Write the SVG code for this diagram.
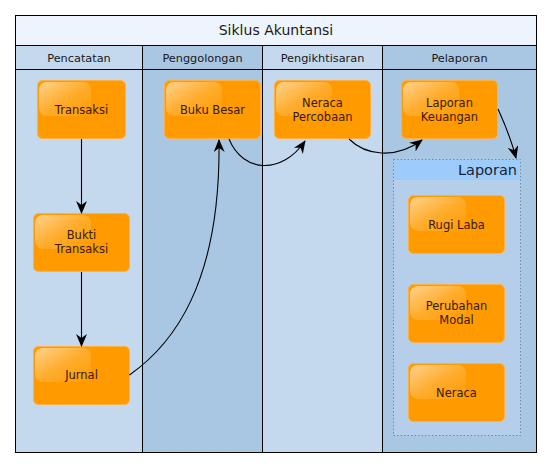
<svg xmlns="http://www.w3.org/2000/svg" width="552" height="468" viewBox="0 0 552 468">
<defs>
<style>
.light{fill:#C4D8EE}
.dark{fill:#A9C7E3}
.line{stroke:#000;stroke-width:1;fill:none}
.hdr{font-family:"DejaVu Sans",sans-serif;font-size:11.3px;fill:#1a1a1a;text-anchor:middle}
.title{font-family:"DejaVu Sans",sans-serif;font-size:14px;fill:#1a1a1a;text-anchor:middle}
.node rect.box{fill:#FF9B00;stroke:#FFB040;stroke-width:1}
.node rect.gloss{fill:url(#gloss)}
.node text{font-family:"DejaVu Sans",sans-serif;font-size:11.5px;fill:#3a1800;text-anchor:middle}
.conn path{stroke:#000;stroke-width:1.1;fill:none;marker-end:url(#arr)}
</style>
<linearGradient id="gloss" x1="0" y1="0" x2="1" y2="1">
<stop offset="0" stop-color="#fff" stop-opacity="0.55"/>
<stop offset="0.5" stop-color="#fff" stop-opacity="0.18"/>
<stop offset="1" stop-color="#fff" stop-opacity="0"/>
</linearGradient>
<marker id="arr" markerUnits="userSpaceOnUse" markerWidth="13" markerHeight="11" refX="12" refY="5.5" orient="auto" viewBox="0 0 13 11">
<path d="M0,0 L13,5.5 L0,11 L4,5.5 z" fill="#000"/>
</marker>
</defs>
<rect x="0" y="0" width="552" height="468" fill="#fff"/>
<g id="pool">
<rect x="15.5" y="15.5" width="521" height="30" fill="#EEF4FD"/>
<rect class="light" x="15.5" y="45.5" width="127" height="407"/>
<rect class="dark" x="142.5" y="45.5" width="120" height="407"/>
<rect class="light" x="262.5" y="45.5" width="120" height="407"/>
<rect class="dark" x="382.5" y="45.5" width="154" height="407"/>
<rect class="line" x="15.5" y="15.5" width="521" height="437"/>
<path class="line" d="M15.5,45.5 H536.5 M15.5,69.5 H536.5 M142.5,45.5 V452.5 M262.5,45.5 V452.5 M382.5,45.5 V452.5"/>
<text class="title" x="276" y="35">Siklus Akuntansi</text>
<text class="hdr" x="79" y="62">Pencatatan</text>
<text class="hdr" x="202.5" y="62">Penggolongan</text>
<text class="hdr" x="322.5" y="62">Pengikhtisaran</text>
<text class="hdr" x="459.5" y="62">Pelaporan</text>
</g>
<g id="laporan-group">
<rect x="393.5" y="159.5" width="127" height="276" fill="#B5CFEA" stroke="#6B8BAE" stroke-width="1" stroke-dasharray="1.5,2"/>
<rect x="394" y="160" width="126" height="20" fill="#9DCBFA"/>
<text x="517" y="175" font-family="DejaVu Sans,sans-serif" font-size="14.5" fill="#15243a" text-anchor="end">Laporan</text>
</g>
<g id="transaksi" class="node">
<rect class="box" x="37.5" y="80.5" width="88" height="58" rx="5"/>
<rect class="gloss" x="39" y="82" width="52" height="34" rx="8"/>
<text x="81.5" y="114">Transaksi</text>
</g>
<g id="bukti-transaksi" class="node">
<rect class="box" x="33.5" y="213.5" width="96" height="58" rx="5"/>
<rect class="gloss" x="35" y="215" width="56" height="34" rx="8"/>
<text x="81.5" y="239">Bukti</text>
<text x="81.5" y="253">Transaksi</text>
</g>
<g id="jurnal" class="node">
<rect class="box" x="33.5" y="346.5" width="96" height="58" rx="5"/>
<rect class="gloss" x="35" y="348" width="56" height="34" rx="8"/>
<text x="81.5" y="379">Jurnal</text>
</g>
<g id="buku-besar" class="node">
<rect class="box" x="164.5" y="80.5" width="96" height="58" rx="5"/>
<rect class="gloss" x="166" y="82" width="56" height="34" rx="8"/>
<text x="212.5" y="114">Buku Besar</text>
</g>
<g id="neraca-percobaan" class="node">
<rect class="box" x="274.5" y="80.5" width="96" height="58" rx="5"/>
<rect class="gloss" x="276" y="82" width="56" height="34" rx="8"/>
<text x="322.5" y="107">Neraca</text>
<text x="322.5" y="121">Percobaan</text>
</g>
<g id="laporan-keuangan" class="node">
<rect class="box" x="401.5" y="80.5" width="96" height="58" rx="5"/>
<rect class="gloss" x="403" y="82" width="56" height="34" rx="8"/>
<text x="449.5" y="107">Laporan</text>
<text x="449.5" y="121">Keuangan</text>
</g>
<g id="rugi-laba" class="node">
<rect class="box" x="408.5" y="195.5" width="96" height="58" rx="5"/>
<rect class="gloss" x="410" y="197" width="56" height="34" rx="8"/>
<text x="456.5" y="229">Rugi Laba</text>
</g>
<g id="perubahan-modal" class="node">
<rect class="box" x="408.5" y="284.5" width="96" height="58" rx="5"/>
<rect class="gloss" x="410" y="286" width="56" height="34" rx="8"/>
<text x="456.5" y="310">Perubahan</text>
<text x="456.5" y="324">Modal</text>
</g>
<g id="neraca" class="node">
<rect class="box" x="408.5" y="363.5" width="96" height="58" rx="5"/>
<rect class="gloss" x="410" y="365" width="56" height="34" rx="8"/>
<text x="456.5" y="397">Neraca</text>
</g>
<g id="connectors" class="conn">
<path d="M81.5,139 V213"/>
<path d="M81.5,272 V346"/>
<path d="M129.5,375 C172,345 221,285 219,140"/>
<path d="M229,139 C243,173 282,175 305,141"/>
<path d="M349,139 C365,155 395,160 422,140"/>
<path d="M498,109 Q510,135 516,158"/>
</g>
</svg>
